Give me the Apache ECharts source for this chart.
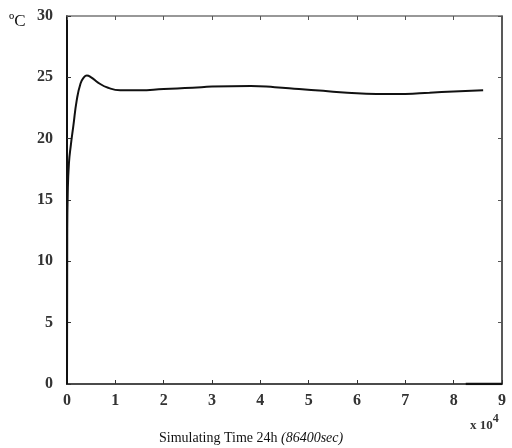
<!DOCTYPE html>
<html>
<head>
<meta charset="utf-8">
<script src="https://cdn.jsdelivr.net/npm/echarts@6/dist/echarts.min.js"></script>
<style>
html, body { margin: 0; padding: 0; background: #fff; }
#chart { width: 512px; height: 448px; }
</style>
</head>
<body>
<div id="chart"></div>
<script>
// simulated temperature, time in seconds
const timeSec = [0, 50, 150, 400, 800, 1300, 2000, 2800, 3500, 4100, 5000, 6500, 8500, 11000, 15000, 20000, 26000, 30000, 38000, 43000, 48000, 53000, 58000, 64000, 70000, 75000, 80000, 86100]
const tempC = [0, 12, 15.5, 18, 19.5, 21, 23.1, 24.5, 25.0, 25.15, 25.0, 24.55, 24.15, 23.95, 23.95, 24.05, 24.15, 24.25, 24.3, 24.2, 24.05, 23.9, 23.75, 23.65, 23.65, 23.75, 23.85, 23.95]
const baseTime = [82500, 90000]
const baseTemp = [0, 0]

const serif = 'Liberation Serif'
const myChart = echarts.init(document.getElementById('chart'))

myChart.setOption({
    animation: false,
    grid: { left: 67, right: 10, top: 16, bottom: 64 },
    xAxis: [{
        type: 'value', min: 0, max: 90000, interval: 10000,
        axisLine: { onZero: false, lineStyle: { color: '#111', width: 1.5 } },
        axisTick: { inside: true, length: 4, lineStyle: { color: '#333' } },
        axisLabel: {
            margin: 9, color: '#333', fontFamily: serif, fontSize: 16, fontWeight: 'bold',
            formatter: v => String(v / 10000)
        },
        splitLine: { show: false }
    }, {
        type: 'value', position: 'top', min: 0, max: 90000, interval: 10000,
        axisLine: { onZero: false, lineStyle: { color: '#777', width: 1.5 } },
        axisTick: { inside: true, length: 4, lineStyle: { color: '#555' } },
        axisLabel: { show: false },
        splitLine: { show: false }
    }],
    yAxis: [{
        type: 'value', min: 0, max: 30, interval: 5,
        axisLine: { show: true, onZero: false, lineStyle: { color: '#111', width: 2 } },
        axisTick: { show: true, inside: true, length: 4, lineStyle: { color: '#333' } },
        axisLabel: { margin: 14, color: '#333', fontFamily: serif, fontSize: 16, fontWeight: 'bold' },
        splitLine: { show: false }
    }, {
        type: 'value', position: 'right', min: 0, max: 30, interval: 5,
        axisLine: { show: true, onZero: false, lineStyle: { color: '#222', width: 1.5 } },
        axisTick: { show: true, inside: true, length: 4, lineStyle: { color: '#555' } },
        axisLabel: { show: false },
        splitLine: { show: false }
    }],
    series: [{
        type: 'line',
        data: timeSec.map((t, i) => [t, tempC[i]]),
        symbol: 'none',
        smooth: 0.5,
        lineStyle: { color: '#111', width: 2 }
    }, {
        type: 'line',
        data: baseTime.map((t, i) => [t, baseTemp[i]]),
        symbol: 'none',
        lineStyle: { color: '#111', width: 2.5 }
    }],
    graphic: [{
        type: 'text', left: 9, top: 13,
        style: { text: 'ºC', font: '17px "Liberation Serif"', fill: '#111' }
    }, {
        type: 'text', left: 470, top: 413,
        style: {
            text: '{a|x 10}{s|4}',
            rich: {
                a: { font: 'bold 13px "Liberation Serif"', fill: '#333', verticalAlign: 'bottom', padding: [6, 0, 0, 0] },
                s: { font: 'bold 12px "Liberation Serif"', fill: '#333', verticalAlign: 'top' }
            }
        }
    }, {
        type: 'text', left: 159, top: 431,
        style: {
            text: '{n|Simulating Time 24h }{i|(86400sec)}',
            rich: {
                n: { font: '14px "Liberation Serif"', fill: '#111' },
                i: { font: 'italic 14px "Liberation Serif"', fill: '#111' }
            }
        }
    }]
})
</script>
</body>
</html>
